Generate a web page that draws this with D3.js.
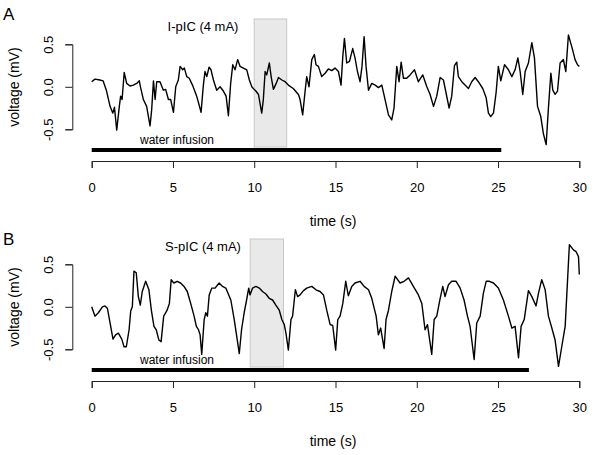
<!DOCTYPE html>
<html>
<head>
<meta charset="utf-8">
<script src="https://cdn.jsdelivr.net/npm/d3@7"></script>
<style>
body { margin: 0; background: #fff; }
svg text { font-family: "Liberation Sans", Arial, Helvetica, sans-serif; fill: #000; }
</style>
</head>
<body>
<div id="chart"></div>
<script>
var width = 600,
height = 455;

// trace values: [time (s), voltage (mV)]
var traceA = [[0,0.06],[0.2,0.09],[0.5,0.08],[0.7,0.07],[0.9,-0.04],[1.13,-0.23],[1.3,-0.31],[1.4,-0.24],[1.54,-0.51],
[1.7,-0.23],[1.78,-0.11],[1.87,-0.15],[2.0,0.17],[2.15,0.04],[2.36,0.01],[2.56,0.02],[2.77,0.04],[2.93,0.07],[3.0,0],
[3.18,-0.15],[3.38,-0.23],[3.59,-0.46],[3.69,-0.27],[3.8,0.07],[3.9,-0.15],[4.0,0.06],[4.2,0.06],[4.41,-0.04],[4.55,-0.03],
[4.72,-0.15],[4.86,-0.15],[5.03,-0.30],[5.17,0],[5.33,0.08],[5.44,0.24],[5.6,0.2],[5.7,0.22],[5.85,0.12],[6.0,0.1],
[6.2,0.02],[6.46,-0.11],[6.73,-0.30],[6.87,0.02],[6.97,0.18],[7.08,0.12],[7.22,0.23],[7.34,0.2],[7.49,0.08],[7.69,-0.04],
[7.9,0],[8.1,-0.05],[8.27,-0.11],[8.41,-0.34],[8.55,0.04],[8.68,0.26],[8.82,0.2],[8.98,0.32],[9.13,0.24],[9.33,0.22],
[9.54,0.2],[9.7,0.08],[9.85,0],[9.99,-0.03],[10.1,-0.05],[10.26,-0.09],[10.46,-0.31],[10.56,-0.15],[10.67,0.18],
[10.77,0.14],[10.93,0.28],[11.04,0.12],[11.18,-0.03],[11.35,0.04],[11.49,0.11],[11.7,0.08],[11.9,0.06],[12.1,0.02],
[12.4,-0.02],[12.72,-0.09],[12.82,-0.15],[12.98,-0.33],[13.13,-0.05],[13.23,0.12],[13.37,0],[13.54,0.32],[13.7,0.38],
[13.8,0.26],[13.95,0.24],[14.15,0.12],[14.36,0.16],[14.56,0.21],[14.77,0.19],[14.97,0.22],[15.18,0.18],[15.34,0.02],
[15.45,0.36],[15.55,0.57],[15.69,0.28],[15.86,0.30],[16.06,0.45],[16.2,0.34],[16.35,0.18],[16.51,0.06],[16.63,0.24],
[16.76,0.59],[16.88,0.24],[17.03,-0.04],[17.23,0.04],[17.44,0.02],[17.64,-0.01],[17.85,0.02],[18.05,-0.15],[18.26,-0.33],
[18.46,-0.39],[18.6,-0.25],[18.77,0.24],[18.91,0.06],[19.04,0.29],[19.18,0.1],[19.38,0.1],[19.59,0.14],[19.86,0.2],
[20.1,0.06],[20.37,0.14],[20.62,0],[20.82,-0.09],[21.03,-0.23],[21.23,-0.11],[21.44,0.11],[21.64,0.08],[21.8,-0.07],
[21.99,-0.25],[22.15,-0.11],[22.32,0.25],[22.46,0.29],[22.56,0.12],[22.77,0.06],[22.97,0.02],[23.18,-0.02],[23.38,0.06],
[23.59,0.11],[23.79,0.06],[24.06,-0.02],[24.27,-0.13],[24.41,-0.31],[24.55,-0.35],[24.72,-0.31],[24.88,-0.07],[25.02,0.24],
[25.17,0.07],[25.4,0.26],[25.64,0.2],[25.85,0.12],[26.05,0.2],[26.22,0.34],[26.36,0.18],[26.52,-0.09],[26.67,0.18],
[26.87,0.28],[27.08,0.52],[27.24,0.34],[27.43,-0.23],[27.63,-0.35],[27.79,-0.55],[27.96,-0.68],[28.1,-0.25],[28.25,0.16],
[28.37,-0.04],[28.51,-0.09],[28.66,-0.05],[28.82,0.28],[29.02,0.32],[29.17,0.18],[29.33,0.61],[29.54,0.47],[29.74,0.32],
[29.89,0.26],[30.0,0.24]];

var traceB = [[0,0],[0.2,-0.11],[0.41,-0.07],[0.66,0],[0.82,0.01],[0.97,-0.02],[1.13,-0.19],[1.31,-0.38],[1.47,-0.33],
[1.64,-0.31],[1.85,-0.38],[1.99,-0.47],[2.13,-0.47],[2.3,-0.27],[2.4,-0.05],[2.5,0],[2.6,0.42],[2.74,0.4],[2.87,0.12],
[2.99,0.02],[3.11,0.18],[3.32,0.3],[3.52,0.2],[3.67,-0.04],[3.83,-0.23],[3.97,-0.27],[4.13,-0.39],[4.27,-0.41],[4.43,-0.11],
[4.64,-0.04],[4.78,0.04],[4.89,0.32],[5.05,0.28],[5.26,0.3],[5.47,0.28],[5.68,0.24],[5.88,0.18],[6.09,0.04],[6.3,-0.11],
[6.44,-0.23],[6.57,-0.27],[6.67,-0.33],[6.77,-0.56],[6.92,-0.15],[7.02,-0.07],[7.12,-0.11],[7.23,0.14],[7.39,0.22],
[7.59,0.22],[7.84,0.28],[8.05,0.24],[8.25,0.22],[8.56,0.08],[8.77,-0.15],[8.91,-0.33],[9.08,-0.55],[9.22,-0.27],
[9.38,-0.07],[9.53,0.08],[9.66,0.22],[9.74,0.14],[9.9,0.22],[10.1,0.24],[10.31,0.22],[10.51,0.18],[10.72,0.15],
[10.92,0.1],[11.13,0.08],[11.33,0.02],[11.54,-0.04],[11.7,-0.15],[11.85,-0.21],[11.95,-0.31],[12.1,-0.51],[12.26,-0.15],
[12.36,-0.11],[12.53,0.2],[12.67,0.12],[12.82,0.14],[13.03,0.19],[13.23,0.22],[13.54,0.24],[13.8,0.2],[14.05,0.18],
[14.26,0.14],[14.46,-0.04],[14.67,-0.21],[14.83,-0.22],[15.01,-0.51],[15.14,-0.15],[15.28,-0.11],[15.45,0.04],[15.63,0.3],
[15.79,0.13],[16.0,0.24],[16.2,0.28],[16.51,0.3],[16.76,0.24],[17.03,0.2],[17.23,0.1],[17.5,-0.11],[17.64,-0.33],
[17.78,-0.25],[17.99,-0.49],[18.11,-0.15],[18.26,-0.04],[18.46,0.18],[18.67,0.36],[18.97,0.28],[19.22,0.3],[19.49,0.34],
[19.79,0.24],[20.1,0.14],[20.31,0.04],[20.51,-0.27],[20.66,-0.21],[20.92,-0.56],[21.07,-0.15],[21.23,-0.11],[21.44,0.1],
[21.6,0.24],[21.74,0.12],[21.95,0.26],[22.15,0.3],[22.42,0.3],[22.67,0.22],[22.91,0.08],[23.12,-0.11],[23.28,-0.23],
[23.53,-0.62],[23.69,-0.19],[23.9,-0.11],[24.1,0.16],[24.27,0.3],[24.47,0.3],[24.72,0.28],[25.02,0.22],[25.33,0.08],
[25.64,-0.11],[25.85,-0.25],[26.05,-0.23],[26.26,-0.6],[26.42,-0.23],[26.61,-0.15],[26.87,0.19],[27.08,0.12],[27.34,0.01],
[27.49,0.16],[27.69,0.32],[27.9,0.2],[28.1,-0.11],[28.31,-0.25],[28.51,-0.39],[28.72,-0.7],[28.92,-0.47],[29.13,-0.23],
[29.39,0.73],[29.64,0.67],[29.8,0.65],[29.95,0.59],[30.0,0.38]];

var xTicks = [0,5,10,15,20,25,30];
var yTicks = [-0.5,0,0.5];
var yTickLabels = ["-0.5","0.0","0.5"];
var panelNames = ["A","B"];
var stimLabels = ["I-pIC (4 mA)","S-pIC (4 mA)"];
var stimWindows = [[10,12],[9.75,11.8]];
var infusions = [[0,25.2],[0,26.9]];
var infusionLabel = "water infusion";
var xTitle = "time (s)";
var yTitle = "voltage (mV)";

var svg = d3.select('#chart').append('svg')
.attr('width', width)
.attr('height', height);

var scaleX = d3.scaleLinear().domain([0,30]).range([91.7,579.3]);

var lineFunc = d3.line()
    .x(function(d) { return scaleX(d[0]); });

/**
 * Draw one panel, shifted down by dy
 */
function drawPanel(i, trace, dy) {
    var g = svg.append('g').attr("transform", "translate(0,"+dy+")");
    let scaleY = d3.scaleLinear().domain([-0.5,0.5]).range([129.3,44.3]);

    // stimulation window
    let win = stimWindows[i];
    g.append("rect")
        .attr("x", scaleX(win[0]))
        .attr("y", 19)
        .attr("width", scaleX(win[1])-scaleX(win[0]))
        .attr("height", 128)
        .attr("fill", "#e9e9e9")
        .attr("stroke", "#c8c8c8")
        .attr("stroke-width", 1);

    g.append("text")
        .attr("x", 203)
        .attr("y", 31)
        .attr("text-anchor", "middle")
        .attr("font-size", "13px")
        .text(stimLabels[i]);

    // the trace
    lineFunc.y(function(d) { return scaleY(d[1]); });
    g.append("path")
        .datum(trace)
        .attr("fill", "none")
        .attr("stroke", "#000")
        .attr("stroke-width", 1.4)
        .attr("stroke-linejoin", "round")
        .attr("d", lineFunc);

    // infusion bar
    let inf = infusions[i];
    g.append("line")
        .attr("x1", scaleX(inf[0]))
        .attr("x2", scaleX(inf[1]))
        .attr("y1", 150)
        .attr("y2", 150)
        .attr("stroke", "#000")
        .attr("stroke-width", 4);
    g.append("text")
        .attr("x", 177)
        .attr("y", 144)
        .attr("text-anchor", "middle")
        .attr("font-size", "12px")
        .text(infusionLabel);

    // x axis
    let axisTime = d3.axisBottom(scaleX)
        .tickValues(xTicks)
        .tickSizeOuter(0)
        .tickSize(7)
        .tickPadding(15)
        .tickFormat(d3.format("d"));
    let ax = g.append("g").attr("transform", "translate(0,161)").call(axisTime);
    ax.selectAll("text").attr("font-size", "13px").attr("font-family", null);

    // y axis, labels turned like R does
    let axisVolt = d3.axisLeft(scaleY)
        .tickValues(yTicks)
        .tickSizeOuter(0)
        .tickSize(7)
        .tickFormat((d,k) => yTickLabels[k]);
    let ay = g.append("g").attr("transform", "translate(72.3,0)").call(axisVolt);
    ay.selectAll("text")
        .attr("font-size", "13px")
        .attr("font-family", null)
        .attr("transform", "rotate(-90)")
        .attr("text-anchor", "middle")
        .attr("x", 0)
        .attr("y", -19.5)
        .attr("dy", null);
    svg.selectAll(".domain, .tick line").attr("stroke", "#222");

    g.append("text")
        .attr("transform", "translate(19,87) rotate(-90)")
        .attr("text-anchor", "middle")
        .attr("font-size", "14px")
        .text(yTitle);
    g.append("text")
        .attr("x", 333)
        .attr("y", 226)
        .attr("text-anchor", "middle")
        .attr("font-size", "14px")
        .text(xTitle);

    g.append("text")
        .attr("x", 3)
        .attr("y", i == 0 ? 20 : 25)
        .attr("font-size", "17px")
        .text(panelNames[i]);
}

drawPanel(0, traceA, 0);
drawPanel(1, traceB, 220);
</script>
</body>
</html>
